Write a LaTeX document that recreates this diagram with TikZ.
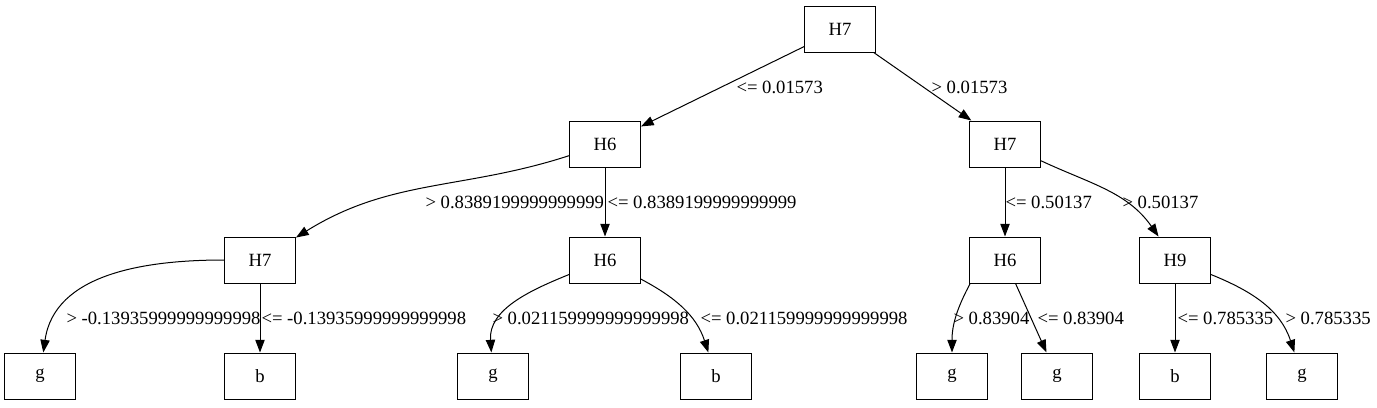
\documentclass[tikz,border=0pt]{standalone}
\usepackage{fontspec}
\setmainfont{Liberation Serif}
\usetikzlibrary{arrows.meta}

\begin{document}
\begin{tikzpicture}[x=0.75pt, y=-0.75pt, line width=0.75pt,
	>={Triangle[length=9.5pt,width=7pt]},
	split/.style={
		rectangle,
		draw,
		minimum width=53.25pt,
		minimum height=34.5pt,
		font=\fontsize{14}{16}\selectfont},
	lbl/.style={anchor=west, inner sep=0pt, font=\fontsize{14}{16}\selectfont}]
	\useasboundingbox (0,0) rectangle (1377,407);
	% draw split nodes
	\node[split] (root) at (840, 29) {H7};
	\node[split] (s1) at (605, 144) {H6};
	\node[split] (s2) at (1005, 144) {H7};
	\node[split] (s3) at (260, 260) {H7};
	\node[split] (s4) at (605, 260) {H6};
	\node[split] (s5) at (1005, 260) {H6};
	\node[split] (s6) at (1175, 260) {H9};
	% draw leaf nodes
	\foreach \t/\x [count=\k] in {g/40, b/260, g/493, b/716, g/952, g/1057, b/1175, g/1302}
	\node[split] (o\k) at (\x, 376) {\t};
	% draw edge labels
	\foreach \t/\x/\y [count=\k] in {
		{<= 0.01573}/736/87, {> 0.01573}/931/87,
		{> 0.8389199999999999}/425/202, {<= 0.8389199999999999}/607/202,
		{<= 0.50137}/1005/202, {> 0.50137}/1122/202,
		{> -0.13935999999999998}/66/318, {<= -0.13935999999999998}/261/318,
		{> 0.021159999999999998}/492/318, {<= 0.021159999999999998}/700/318,
		{> 0.83904}/953/318, {<= 0.83904}/1037/318,
		{<= 0.785335}/1177/318, {> 0.785335}/1285/318}
	\node[lbl] (e\k) at (\x, \y) {\t};
	% draw tree edges
	\draw[->] (root) -- (s1);
	\draw[->] (root) -- (s2);
	\draw[->] (s1) to[out=198, in=32] (s3);
	\draw[->] (s1) -- (s4);
	\draw[->] (s2) -- (s5);
	\draw[->] (s2) to[out=-25, in=125] (s6);
	\draw[->] (s3) to[out=180, in=82] (o1);
	\draw[->] (s3) -- (o2);
	\draw[->] (s4) to[out=202, in=94] (o3);
	\draw[->] (s4) to[out=-28, in=108] (o4);
	\draw[->] (s5.-146) to[out=-118, in=90] (o5);
	\draw[->] (s5) -- (o6);
	\draw[->] (s6) -- (o7);
	\draw[->] (s6) to[out=-22, in=108] (o8);
\end{tikzpicture}
\end{document}
